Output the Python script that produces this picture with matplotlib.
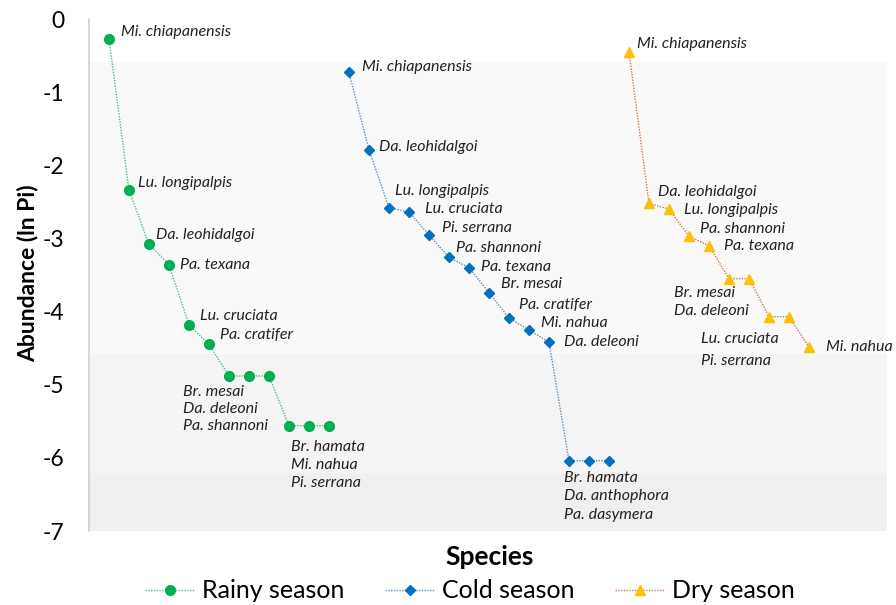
import matplotlib.pyplot as plt

plt.rcParams['font.family'] = ['Lato', 'DejaVu Sans']

# ---- data (ln Pi per species, in rank order) ----
rainy_species = ['Mi. chiapanensis', 'Lu. longipalpis', 'Da. leohidalgoi', 'Pa. texana',
                 'Lu. cruciata', 'Pa. cratifer', 'Br. mesai', 'Da. deleoni', 'Pa. shannoni',
                 'Br. hamata', 'Mi. nahua', 'Pi. serrana']
rainy_values = [-0.27, -2.34, -3.08, -3.36, -4.18, -4.45, -4.88, -4.88, -4.88,
                -5.56, -5.56, -5.56]

cold_species = ['Mi. chiapanensis', 'Da. leohidalgoi', 'Lu. longipalpis', 'Lu. cruciata',
                'Pi. serrana', 'Pa. shannoni', 'Pa. texana', 'Br. mesai', 'Pa. cratifer',
                'Mi. nahua', 'Da. deleoni', 'Br. hamata', 'Da. anthophora', 'Pa. dasymera']
cold_values = [-0.73, -1.79, -2.58, -2.64, -2.95, -3.26, -3.40, -3.74, -4.09,
               -4.25, -4.42, -6.04, -6.04, -6.04]

dry_species = ['Mi. chiapanensis', 'Da. leohidalgoi', 'Lu. longipalpis', 'Pa. shannoni',
               'Pa. texana', 'Br. mesai', 'Da. deleoni', 'Lu. cruciata', 'Pi. serrana',
               'Mi. nahua']
dry_values = [-0.45, -2.52, -2.60, -2.97, -3.10, -3.55, -3.55, -4.07, -4.07, -4.48]

# label layout: (first index, n species, dx px, dy px, line step px)
rainy_labels = [(0, 1, 12, 7, 0), (1, 1, 9, 7, 0), (2, 1, 7, 9, 0), (3, 1, 11, 0, 0),
                (4, 1, 11, 9, 0), (5, 1, 11, 9, 0), (6, 3, -46, -16, 17), (9, 3, 2, -21, 18)]
cold_labels = [(0, 1, 13, 5, 0), (1, 1, 10, 3, 0), (2, 1, 6, 17, 0), (3, 1, 16, 3, 0),
               (4, 1, 13, 7, 0), (5, 1, 7, 9, 0), (6, 1, 12, 1, 0), (7, 1, 12, 9, 0),
               (8, 1, 10, 13, 0), (9, 1, 12, 7, 0), (10, 1, 15, 0, 0), (11, 3, -5, -17, 18.5)]
dry_labels = [(0, 1, 8, 8, 0), (1, 1, 9, 11, 0), (2, 1, 15, -1, 0), (3, 1, 11, 7, 0),
              (4, 1, 15, 0, 0), (5, 2, -55, -14, 18), (7, 2, -68, -22, 22), (9, 1, 17, 0, 0)]

fig = plt.figure(figsize=(8.96, 6.05), dpi=100)
ax = fig.add_axes([89 / 896, 74 / 605, 798 / 896, 512 / 605])

# background bands
ax.axhspan(-4.58, -0.59, color='#f9f9f9', lw=0, zorder=0)
ax.axhspan(-6.21, -4.58, color='#f4f4f4', lw=0, zorder=0)
ax.axhspan(-7, -6.21, color='#efefef', lw=0, zorder=0)

series = [
    (rainy_species, rainy_values, rainy_labels, 1, 'Rainy season', '#00b050', '#4fc07a', 'o', 7),
    (cold_species, cold_values, cold_labels, 1 + len(rainy_values), 'Cold season', '#0070c0', '#5b8fc0', 'D', 5.5),
    (dry_species, dry_values, dry_labels, 1 + len(rainy_values) + len(cold_values), 'Dry season', '#ffc000', '#d07a45', '^', 7),
]

for species, values, labels, start, name, mcol, lcol, marker, ms in series:
    xs = list(range(start, start + len(values)))
    ax.plot(xs, values, color=lcol, lw=1.0, ls=(0, (1, 1)), marker=marker, ms=ms,
            mfc=mcol, mec=mcol, label=name, zorder=3)
    for i0, n, dx, dy, step in labels:
        for k in range(n):
            ax.annotate(species[i0 + k], (xs[i0], values[i0]),
                        xytext=(dx, dy - k * step), textcoords='offset pixels',
                        ha='left', va='center', style='italic', fontsize=11.5, color='#222222')

ax.set_xlim(0, 39.9)
ax.set_ylim(-7, 0)
ax.set_yticks(range(-7, 1))
ax.set_yticklabels([str(v) for v in range(-7, 1)])
ax.set_xticks([])
ax.tick_params(axis='y', length=0, pad=18, labelsize=16.5)
for s in ['top', 'right', 'bottom']:
    ax.spines[s].set_visible(False)
ax.spines['left'].set_color('#d0d0d0')
ax.spines['left'].set_linewidth(1.2)

fig.text(28 / 896, 1 - 273 / 605, 'Abundance (ln Pi)', ha='center', va='center',
         rotation=90, fontsize=16.5, fontweight='bold')
fig.text(490 / 896, 1 - 557 / 605, 'Species', ha='center', va='center',
         fontsize=19, fontweight='bold')

fig.legend(loc='center', bbox_to_anchor=(470 / 896, 1 - 591 / 605), ncol=3, frameon=False,
           fontsize=18, handlelength=2.0, columnspacing=1.6, handletextpad=0.3,
           borderpad=0.2)

fig.savefig('out.png', dpi=100)
